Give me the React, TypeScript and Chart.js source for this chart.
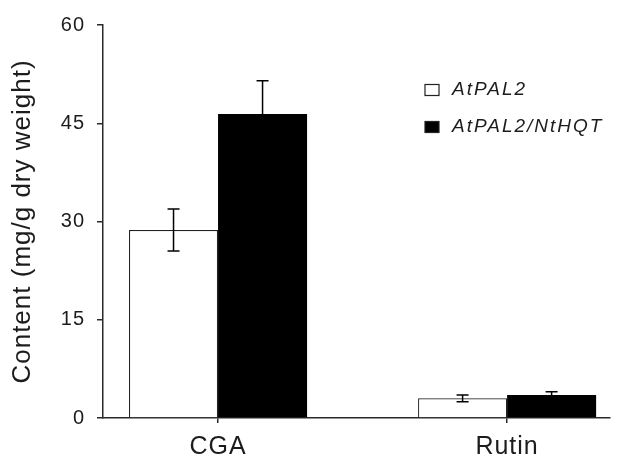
import React, { useEffect, useRef } from "react";
import { Chart, registerables } from "chart.js";

Chart.register(...registerables);

const categories = ["CGA", "Rutin"];
const seriesNames = ["AtPAL2", "AtPAL2/NtHQT"];
const palValues = [28.7, 3.0];
const palErrors = [3.2, 0.5];
const hqtValues = [46.4, 3.5];
const hqtErrors = [5.1, 0.5];
const yTicks = [0, 15, 30, 45, 60];

const FONT = "'Liberation Sans', Arial, sans-serif";
const AXIS = "#2a2a2a";
const TEXT = "#1c1c1c";

const errorBarPlugin = {
  id: "errorBars",
  afterDatasetsDraw(chart: any) {
    const { ctx } = chart;
    const y = chart.scales.y;
    ctx.save();
    ctx.strokeStyle = "#000000";
    ctx.lineWidth = 1.5;
    chart.data.datasets.forEach((ds: any, di: number) => {
      const meta = chart.getDatasetMeta(di);
      meta.data.forEach((bar: any, i: number) => {
        const v = ds.data[i].y;
        const e = ds.errors[i];
        const x = bar.x;
        const yTop = y.getPixelForValue(v + e);
        const yBot = y.getPixelForValue(v - e);
        const cap = 6;
        ctx.beginPath();
        ctx.moveTo(x, yTop);
        ctx.lineTo(x, yBot);
        ctx.moveTo(x - cap, yTop);
        ctx.lineTo(x + cap, yTop);
        ctx.moveTo(x - cap, yBot);
        ctx.lineTo(x + cap, yBot);
        ctx.stroke();
      });
    });
    ctx.restore();
  },
};

const legendPlugin = {
  id: "customLegend",
  afterDraw(chart: any) {
    const { ctx, chartArea } = chart;
    const bx = chartArea.left + 322;
    const tx = chartArea.left + 349;
    const rows = [chartArea.top + 65, chartArea.top + 102];
    ctx.save();
    chart.data.datasets.forEach((ds: any, i: number) => {
      const cy = rows[i];
      ctx.fillStyle = ds.backgroundColor;
      ctx.fillRect(bx, cy - 5.5, 14, 11);
      ctx.strokeStyle = "#222";
      ctx.lineWidth = 1.2;
      ctx.strokeRect(bx, cy - 5.5, 14, 11);
      ctx.fillStyle = TEXT;
      ctx.font = `italic 19px ${FONT}`;
      (ctx as any).letterSpacing = "2px";
      ctx.textAlign = "left";
      ctx.textBaseline = "middle";
      ctx.fillText(ds.label, tx, cy);
    });
    ctx.restore();
  },
};

const spacingPlugin = {
  id: "spacing",
  beforeDraw(chart: any) {
    (chart.ctx as any).letterSpacing = "1px";
  },
};

export default function App() {
  const ref = useRef<HTMLCanvasElement>(null);

  useEffect(() => {
    if (!ref.current) return;
    const chart = new Chart(ref.current, {
      type: "bar",
      data: {
        datasets: [
          {
            label: seriesNames[0],
            data: palValues.map((v, i) => ({ x: i + 1, y: v })),
            errors: palErrors,
            backgroundColor: "#ffffff",
            borderColor: "#222222",
            borderWidth: 1.2,
          } as any,
          {
            label: seriesNames[1],
            data: hqtValues.map((v, i) => ({ x: i + 1, y: v })),
            errors: hqtErrors,
            backgroundColor: "#000000",
            borderColor: "#000000",
            borderWidth: 0,
          } as any,
        ],
      },
      options: {
        responsive: false,
        animation: false,
        events: [],
        categoryPercentage: 0.616,
        barPercentage: 1,
        layout: { padding: { left: 0, right: 12, top: 25, bottom: 0 } },
        plugins: {
          legend: { display: false },
          tooltip: { enabled: false },
        },
        scales: {
          x: {
            type: "linear",
            offset: false,
            min: 0.602,
            max: 2.356,
            afterBuildTicks(scale: any) {
              scale.ticks = categories.map((_, i) => ({ value: i + 1 }));
            },
            afterFit(scale: any) {
              scale.height = 43;
            },
            ticks: {
              callback: (v: any) => categories[Math.round(Number(v)) - 1] ?? "",
              font: { family: FONT, size: 25 },
              color: TEXT,
              padding: 9,
              maxRotation: 0,
              autoSkip: false,
            },
            grid: {
              offset: false,
              drawOnChartArea: false,
              drawTicks: true,
              tickLength: 5,
              color: AXIS,
              lineWidth: 1.5,
            },
            border: { display: true, color: AXIS, width: 1.5 },
          },
          y: {
            type: "linear",
            min: yTicks[0],
            max: yTicks[yTicks.length - 1],
            afterBuildTicks(scale: any) {
              scale.ticks = yTicks.map((v) => ({ value: v }));
            },
            afterFit(scale: any) {
              scale.width = 103;
            },
            ticks: {
              font: { family: FONT, size: 20 },
              color: TEXT,
              padding: 12,
            },
            grid: {
              drawOnChartArea: false,
              drawTicks: true,
              tickLength: 6,
              color: AXIS,
              lineWidth: 1.5,
            },
            border: { display: true, color: AXIS, width: 1.5 },
            title: {
              display: true,
              text: "Content (mg/g dry weight)",
              font: { family: FONT, size: 26 },
              color: TEXT,
              padding: { top: 7, bottom: 0 },
            },
          },
        },
      } as any,
      plugins: [spacingPlugin, errorBarPlugin, legendPlugin],
    });
    return () => chart.destroy();
  }, []);

  return (
    <div style={{ position: "fixed", left: 0, top: 0, width: 622, height: 461, background: "#fff" }}>
      <canvas ref={ref} width={622} height={461} />
    </div>
  );
}
